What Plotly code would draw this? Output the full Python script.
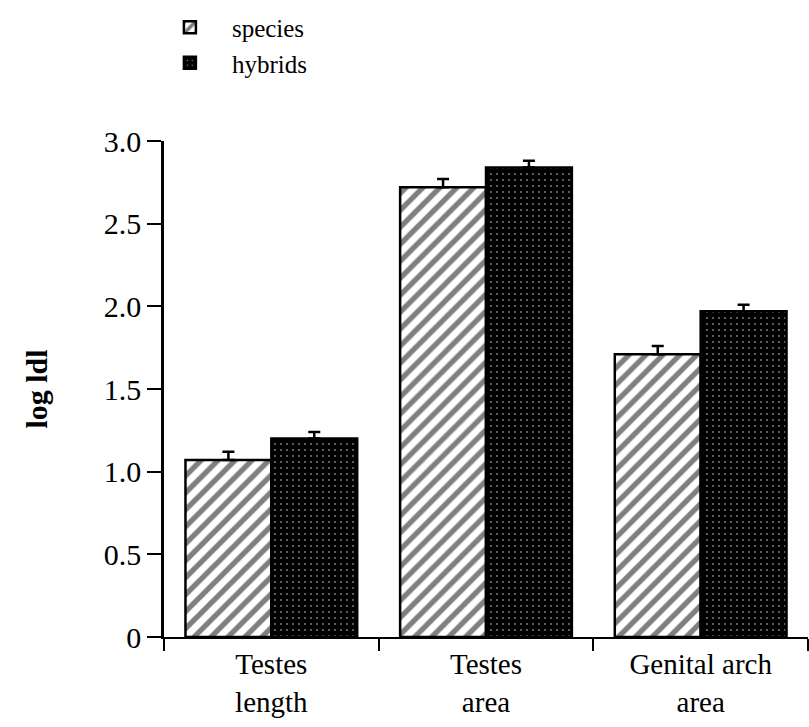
import plotly.graph_objects as go

# Measurements (log |d|) per trait
categories = ["Testes<br>length", "Testes<br>area", "Genital arch<br>area"]
species_vals = [1.07, 2.72, 1.71]
species_err = [0.05, 0.05, 0.05]
hybrid_vals = [1.20, 2.84, 1.97]
hybrid_err = [0.04, 0.04, 0.04]

y_tickvals = [0, 0.5, 1.0, 1.5, 2.0, 2.5, 3.0]
y_ticktext = ["0", "0.5", "1.0", "1.5", "2.0", "2.5", "3.0"]

SERIF = "Liberation Serif"

fig = go.Figure()

fig.add_trace(go.Bar(
    name="species",
    x=categories,
    y=species_vals,
    error_y=dict(type="data", array=species_err, arrayminus=[0] * len(species_err),
                 symmetric=False, color="black", thickness=2.5, width=6),
    marker=dict(
        color="white",
        line=dict(color="black", width=2.5),
        pattern=dict(shape="/", fgcolor="black", bgcolor="white", size=12, solidity=0.45),
    ),
))

fig.add_trace(go.Bar(
    name="hybrids",
    x=categories,
    y=hybrid_vals,
    error_y=dict(type="data", array=hybrid_err, arrayminus=[0] * len(hybrid_err),
                 symmetric=False, color="black", thickness=2.5, width=6),
    marker=dict(
        color="black",
        line=dict(color="black", width=2.5),
        pattern=dict(shape=".", fgcolor="white", bgcolor="black", size=6, solidity=0.08),
    ),
))

# short stub of the baseline to the left of the value axis
fig.add_shape(type="line", xref="paper", yref="y", x0=-0.012, x1=0, y0=0, y1=0,
              line=dict(color="black", width=2))

fig.update_layout(
    width=809,
    height=727,
    margin=dict(l=164, r=1, t=141, b=90),
    paper_bgcolor="white",
    plot_bgcolor="white",
    barmode="group",
    bargap=0.2,
    bargroupgap=0,
    font=dict(family=SERIF, color="black", size=26),
    legend=dict(
        x=-0.025, y=1.275, xanchor="left", yanchor="top",
        font=dict(family=SERIF, size=25, color="black"),
        bgcolor="rgba(0,0,0,0)",
        itemwidth=74,
        tracegroupgap=0,
    ),
    xaxis=dict(
        showline=True, linecolor="black", linewidth=2,
        ticks="outside", tickson="boundaries", ticklen=12, tickwidth=2, tickcolor="black",
        tickfont=dict(family=SERIF, size=29, color="black"),
        showgrid=False, zeroline=False,
    ),
    yaxis=dict(
        range=[0, 3.0],
        tickvals=y_tickvals, ticktext=y_ticktext,
        showline=True, linecolor="black", linewidth=2.5,
        ticks="outside", ticklen=14, tickwidth=2, tickcolor="black",
        tickfont=dict(family=SERIF, size=30, color="black"),
        showgrid=False, zeroline=False,
        title=dict(text="<b>log ldl</b>", font=dict(family=SERIF, size=30, color="black"),
                   standoff=48),
    ),
)

fig.write_html("out.html")
